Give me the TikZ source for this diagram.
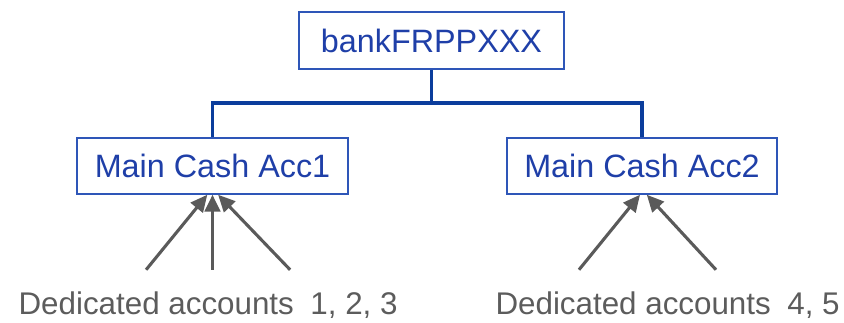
\documentclass[tikz,border=0pt]{standalone}
\usepackage{fontspec}
\setmainfont{Liberation Sans}
\usepackage{tikz}
\usetikzlibrary{positioning,arrows.meta}

\definecolor{boxline}{HTML}{2E56B8}
\definecolor{boxtext}{HTML}{1F3FA8}
\definecolor{barblue}{HTML}{0B3D9C}
\definecolor{feedgray}{HTML}{5A5A5A}
\definecolor{notegray}{HTML}{5C5C5C}

\begin{document}
\begin{tikzpicture}[
  node distance=1.675cm,
  acct/.style={rectangle, draw=boxline, line width=1.3pt, text=boxtext, inner sep=0pt, minimum height=1.4cm, font=\fontsize{23pt}{27pt}\selectfont},
  link/.style={draw=barblue, line width=2.6pt},
  feed/.style={draw=feedgray, line width=2.2pt, -{Triangle[length=12pt,width=11pt]}},
  note/.style={inner sep=0pt, text=notegray, font=\fontsize{22.3pt}{26pt}\selectfont}
]
  \useasboundingbox (0,0) rectangle (21.1,-8.05);

  % Nodes
  \node[acct, minimum width=6.625cm, minimum height=1.425cm] (bank) at (10.7875,-1.0125) {bankFRPPXXX};
  \node[acct, minimum width=6.775cm, below=of bank, xshift=-5.475cm] (cash1) {Main Cash Acc1};
  \node[acct, minimum width=6.75cm, below=of bank, xshift=5.2625cm] (cash2) {Main Cash Acc2};

  % Tails of the arrows
  \coordinate[below left=1.875cm and 1.66cm of cash1.south] (d1);
  \coordinate[below=1.875cm of cash1.south] (d2);
  \coordinate[below right=1.875cm and 1.94cm of cash1.south] (d3);
  \coordinate[below left=1.875cm and 1.575cm of cash2.south] (d4);
  \coordinate[below right=1.875cm and 1.85cm of cash2.south] (d5);

  % Labels
  \node[note, below=3.0cm of cash1.south, anchor=base, xshift=-0.11cm] (ded1) {Dedicated accounts\hspace{0.25em} 1, 2, 3};
  \node[note, below=3.0cm of cash2.south, anchor=base, xshift=0.64cm] (ded2) {Dedicated accounts\hspace{0.25em} 4, 5};

  % Connectors
  \draw[link] (bank.south) -- ++(0,-0.83) coordinate (fork);
  \draw[link] (cash1.north) |- (fork) -| (cash2.north);

  \draw[feed] (d1) -- ([xshift=-0.13cm]cash1.south);
  \draw[feed] (d2) -- (cash1.south);
  \draw[feed] (d3) -- ([xshift=0.14cm]cash1.south);
  \draw[feed] (d4) -- ([xshift=-0.05cm]cash2.south);
  \draw[feed] (d5) -- ([xshift=0.12cm]cash2.south);
\end{tikzpicture}
\end{document}
